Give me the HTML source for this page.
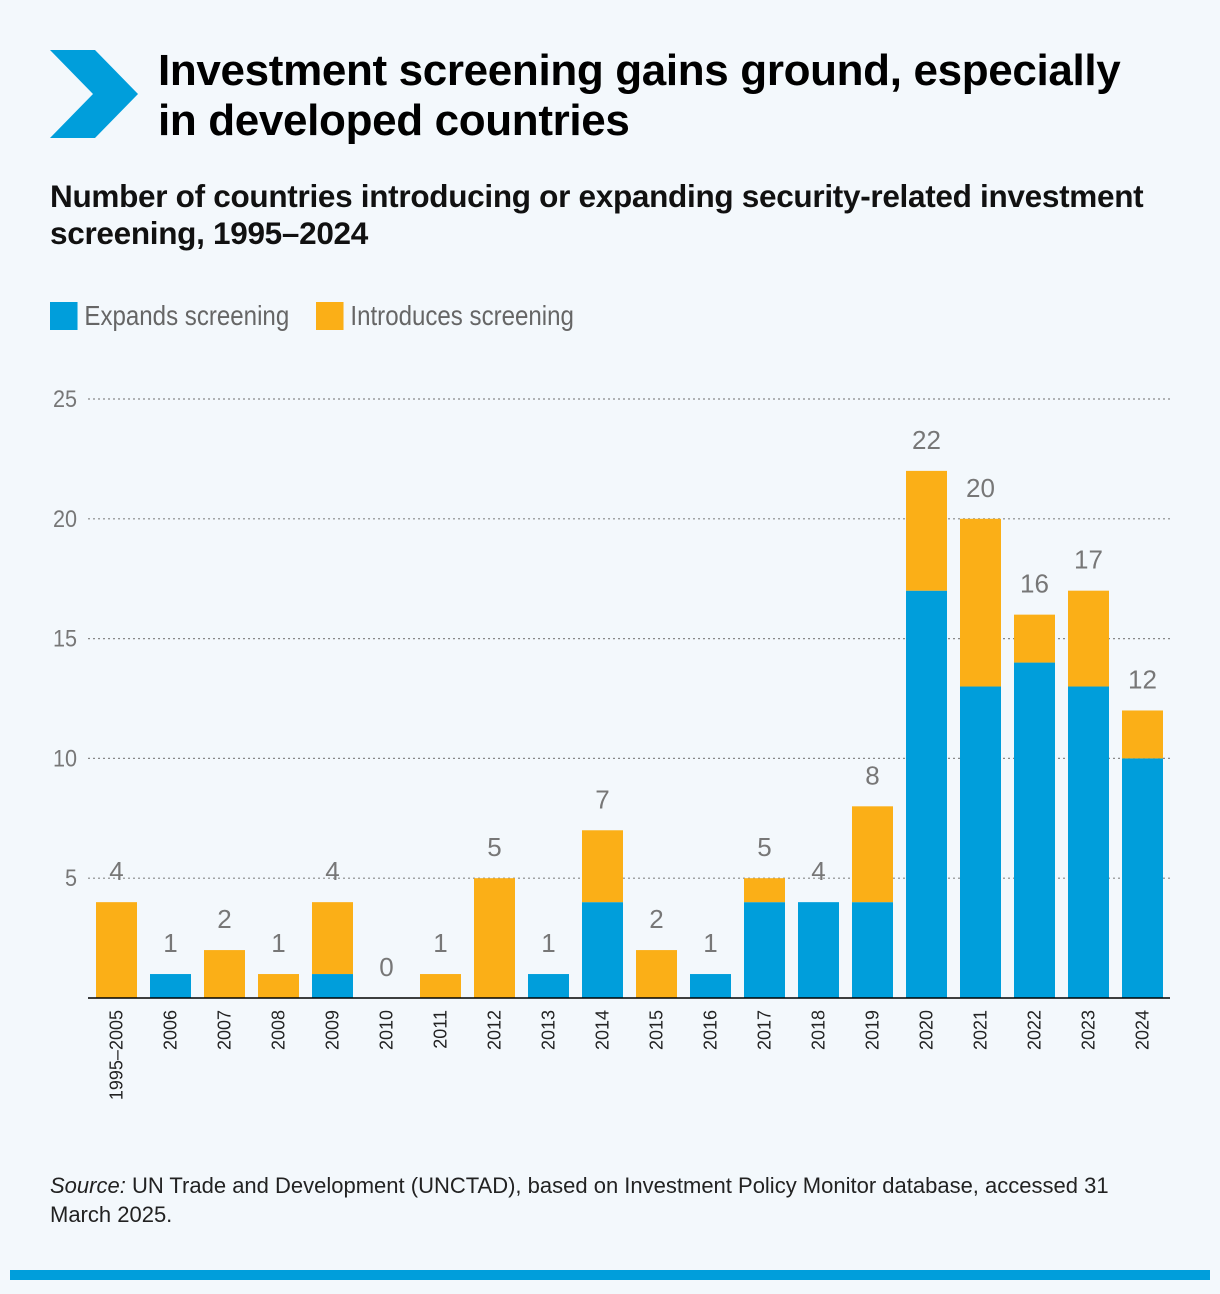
<!DOCTYPE html>
<html><head><meta charset="utf-8"><style>
body{margin:0;background:#f3f8fc;width:1220px;height:1294px;overflow:hidden;font-family:"Liberation Sans",sans-serif;position:relative}
.t{position:absolute;left:158px;top:46px;font-size:44px;font-weight:bold;line-height:50px;color:#000;letter-spacing:-0.35px}
.s{position:absolute;left:50px;top:178px;font-size:31.5px;font-weight:bold;line-height:37px;color:#111;letter-spacing:-0.3px}
.lg{position:absolute;top:300px;font-size:28px;color:#666;display:flex;align-items:center;transform-origin:left center;transform:scaleX(0.86)}
.sw{width:32px;height:28px;margin-right:8px}
.src{position:absolute;left:50px;top:1171px;font-size:22px;line-height:29px;color:#222;width:1120px}
.bb{position:absolute;left:10px;top:1270px;width:1200px;height:10px;background:#009edb}
</style></head><body>
<svg style="position:absolute;left:0;top:0" width="150" height="150"><polygon points="50,50 95,50 138,94 95,138 50,138 93,94" fill="#009edb"/></svg>
<div class="t">Investment screening gains ground, especially<br>in developed countries</div>
<div class="s">Number of countries introducing or expanding security-related investment<br>screening, 1995–2024</div>
<div class="lg" style="left:50px"><div class="sw" style="background:#009edb"></div>Expands screening</div>
<div class="lg" style="left:316px"><div class="sw" style="background:#fbaf17"></div>Introduces screening</div>
<svg id="ch" style="position:absolute;left:0;top:0" width="1220" height="1160"></svg>
<div class="src"><i>Source:</i> UN Trade and Development (UNCTAD), based on Investment Policy Monitor database, accessed 31 March 2025.</div>
<div class="bb"></div>
<script>
const categories=["1995–2005","2006","2007","2008","2009","2010","2011","2012","2013","2014","2015","2016","2017","2018","2019","2020","2021","2022","2023","2024"];
const expands=[0,1,0,0,1,0,0,0,1,4,0,1,4,4,4,17,13,14,13,10];
const introduces=[4,0,2,1,3,0,1,5,0,3,2,0,1,0,4,5,7,2,4,2];
const yTicks=[5,10,15,20,25];
const svg=document.getElementById('ch'),NS='http://www.w3.org/2000/svg';
const y=v=>998-v*23.96, x=i=>116.5+54*i, bw=41;
function mk(t,a){const e=document.createElementNS(NS,t);for(const k in a)e.setAttribute(k,a[k]);svg.appendChild(e);return e;}
yTicks.forEach(v=>{
 const l=mk('line',{x1:88,x2:1170,y1:y(v),y2:y(v),stroke:'#888','stroke-dasharray':'2,3','stroke-width':1.2});
 
 
 const t=mk('text',{x:77/0.9,y:y(v)+8,'text-anchor':'end','font-size':24,fill:'#777',transform:'scale(0.9,1)'});
 t.textContent=v;
 
 
});
categories.forEach((c,i)=>{
 const e=expands[i],n=introduces[i],cx=x(i);
 if(e>0){const r=mk('rect',{x:cx-bw/2,y:y(e),width:bw,height:y(0)-y(e),fill:'#009edb'});
 
 }
 if(n>0){const r=mk('rect',{x:cx-bw/2,y:y(e+n),width:bw,height:y(e)-y(e+n),fill:'#fbaf17'});
 
 }
 const v=mk('text',{x:cx,y:y(e+n)-22,'text-anchor':'middle','font-size':26,fill:'#777'});
 v.textContent=e+n;
 
 
 const t=mk('text',{x:0,y:0,'text-anchor':'end','font-size':18,fill:'#222',transform:`translate(${cx+6},1010) rotate(-90)`});
 t.textContent=c;
 
 
});
const ax=mk('line',{x1:88,x2:1170,y1:998,y2:998,stroke:'#000','stroke-width':1.5});


</script>
</body></html>
